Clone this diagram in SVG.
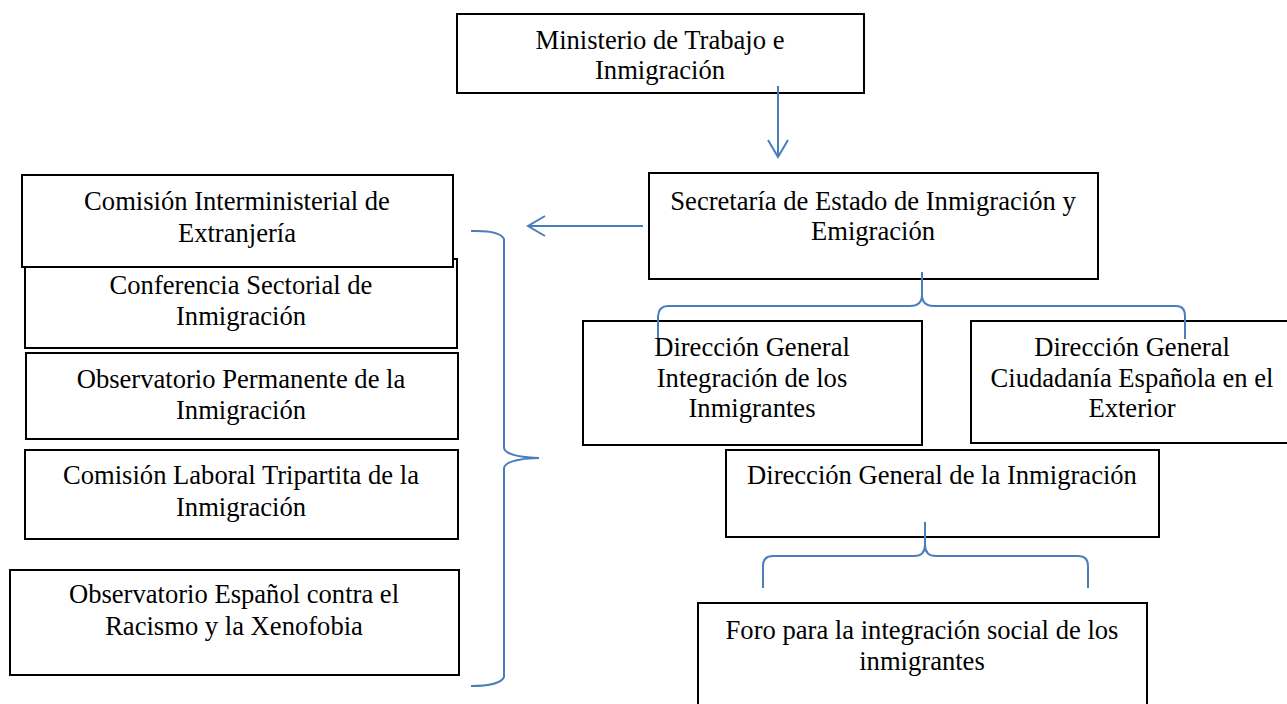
<svg xmlns="http://www.w3.org/2000/svg" width="1287" height="704" viewBox="0 0 1287 704">
<defs>
<style>
.box{fill:#fff;stroke:#000;stroke-width:2}
.t{font-family:'Liberation Serif','Times New Roman',Tinos,'DejaVu Serif',serif;font-size:26.6px;fill:#000;text-anchor:middle}
.c{fill:none;stroke:#4a7ebb;stroke-width:2}
</style>
<marker id="ah" viewBox="0 0 20 22" refX="18" refY="11" markerWidth="20" markerHeight="22" markerUnits="userSpaceOnUse" orient="auto">
<path d="M1,1 L18,11 L1,21" fill="none" stroke="#4a7ebb" stroke-width="2"/>
</marker>
</defs>
<rect width="1287" height="704" fill="#fff"/>

<g id="ministerio">
<rect class="box" x="457" y="14" width="407" height="79"/>
<text class="t" x="660" y="49">Ministerio de Trabajo e</text>
<text class="t" x="660" y="79">Inmigración</text>
</g>

<g id="secretaria">
<rect class="box" x="649" y="173" width="449" height="106"/>
<text class="t" x="873" y="210">Secretaría de Estado de Inmigración y</text>
<text class="t" x="873" y="240">Emigración</text>
</g>

<g id="conferencia">
<rect class="box" x="25" y="259" width="432" height="89"/>
<text class="t" x="241" y="294">Conferencia Sectorial de</text>
<text class="t" x="241" y="325">Inmigración</text>
</g>

<g id="comision-interministerial">
<rect class="box" x="22" y="175" width="431" height="92"/>
<text class="t" x="237" y="210">Comisión Interministerial de</text>
<text class="t" x="237" y="242">Extranjería</text>
</g>

<g id="observatorio-permanente">
<rect class="box" x="26" y="353" width="432" height="86"/>
<text class="t" x="241" y="388">Observatorio Permanente de la</text>
<text class="t" x="241" y="419">Inmigración</text>
</g>

<g id="comision-laboral">
<rect class="box" x="25" y="450" width="433" height="89"/>
<text class="t" x="241" y="484">Comisión Laboral Tripartita de la</text>
<text class="t" x="241" y="516">Inmigración</text>
</g>

<g id="observatorio-espanol">
<rect class="box" x="10" y="570" width="449" height="105"/>
<text class="t" x="234" y="603">Observatorio Español contra el</text>
<text class="t" x="234" y="635">Racismo y la Xenofobia</text>
</g>

<g id="dg-integracion">
<rect class="box" x="583" y="321" width="339" height="124"/>
<text class="t" x="752" y="356">Dirección General</text>
<text class="t" x="752" y="387">Integración de los</text>
<text class="t" x="752" y="417">Inmigrantes</text>
</g>

<g id="dg-ciudadania">
<rect class="box" x="971" y="321" width="322" height="122"/>
<text class="t" x="1132" y="356">Dirección General</text>
<text class="t" x="1132" y="387">Ciudadanía Española en el</text>
<text class="t" x="1132" y="417">Exterior</text>
</g>

<g id="dg-inmigracion">
<rect class="box" x="726" y="450" width="433" height="87"/>
<text class="t" x="942" y="484">Dirección General de la Inmigración</text>
</g>

<g id="foro">
<rect class="box" x="698" y="603" width="449" height="110"/>
<text class="t" x="922" y="639">Foro para la integración social de los</text>
<text class="t" x="922" y="670">inmigrantes</text>
</g>

<g id="connectors">
<line class="c" x1="778" y1="86" x2="778" y2="157" marker-end="url(#ah)"/>
<line class="c" x1="643" y1="226" x2="528" y2="226" marker-end="url(#ah)"/>
<path class="c" d="M471,231 Q500,230 504,239 L504,448 Q506,457 539,458 Q506,459 504,468 L504,677 Q500,686 471,686"/>
<path class="c" d="M922,272 L922,295 Q922,306 910,306 L668,306 Q659,306 658,316 L658,338 M922,295 Q922,306 934,306 L1176,306 Q1185,306 1185,316 L1185,339"/>
<path class="c" d="M925,522 L925,545 Q925,556 914,556 L773,556 Q763,556 763,566 L763,588 M925,545 Q925,556 936,556 L1078,556 Q1088,556 1088,566 L1088,588"/>
</g>
</svg>
